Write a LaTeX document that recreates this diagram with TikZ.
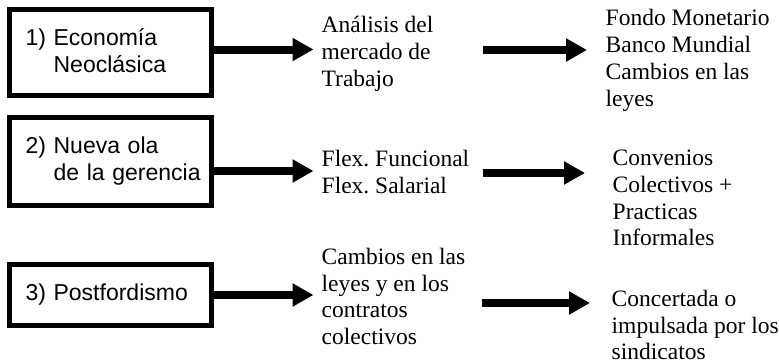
\documentclass[tikz,border=0pt]{standalone}
\usepackage{fontspec}
\setmainfont{Liberation Serif}
\setsansfont{Liberation Sans}
\usepackage{tikz}
\usetikzlibrary{arrows.meta}
\tikzstyle{school} = [rectangle, draw=black, line width=5pt, minimum width=202pt, text width=170pt, inner xsep=16pt, align=left, font=\sffamily\fontsize{23}{27}\selectfont]
\tikzstyle{effect} = [anchor=west, inner sep=0pt, align=left, font=\fontsize{23.5}{26.8}\selectfont]
\tikzstyle{arrow} = [line width=8pt, -{Triangle[length=21pt, width=22pt]}]

\begin{document}
\frenchspacing
\begin{tikzpicture}[x=1pt, y=-1pt]
\useasboundingbox (0,0) rectangle (779,364);
\node (neoclasica) [school, minimum height=86pt] at (110.5,52.5) {\mbox{1) Economía}\\\mbox{\phantom{1) }Neoclásica}};
\node (gerencia) [school, minimum height=88pt] at (110.5,161.5) {\mbox{2) Nueva ola}\\\mbox{\phantom{2) }de la gerencia}};
\node (postfordismo) [school, minimum height=61pt] at (110.5,295) {\mbox{3) Postfordismo}};
\node (analisis) [effect] at (321.5,54) {Análisis del\\mercado de\\Trabajo};
\node (fondo) [effect] at (605.5,60.5) {Fondo Monetario\\Banco Mundial\\Cambios en las\\leyes};
\node (flex) [effect] at (321.5,172) {Flex. Funcional\\Flex. Salarial};
\node (convenios) [effect] at (612.5,198) {Convenios\\Colectivos +\\Practicas\\Informales};
\node (cambios) [effect] at (321.5,296.5) {Cambios en las\\leyes y en los\\contratos\\colectivos};
\node (concertada) [effect] at (611.5,325) {Concertada o\\impulsada por los\\sindicatos};
\coordinate (mid1) at (483,50);
\coordinate (mid2) at (483,173);
\coordinate (mid3) at (482,303);
\draw [arrow, shorten >=8pt] ([yshift=3pt]neoclasica.east) -- ([yshift=3pt]neoclasica.east -| analisis.west);
\draw [arrow, shorten >=8pt] ([yshift=-9.5pt]gerencia.east) -- ([yshift=-9.5pt]gerencia.east -| flex.west);
\draw [arrow, shorten >=8pt] (postfordismo.east) -- (postfordismo.east -| cambios.west);
\draw [arrow, shorten >=18.5pt] (mid1) -- (mid1 -| fondo.west);
\draw [arrow, shorten >=27.5pt] (mid2) -- (mid2 -| convenios.west);
\draw [arrow, shorten >=21.5pt] (mid3) -- (mid3 -| concertada.west);
\end{tikzpicture}
\end{document}
